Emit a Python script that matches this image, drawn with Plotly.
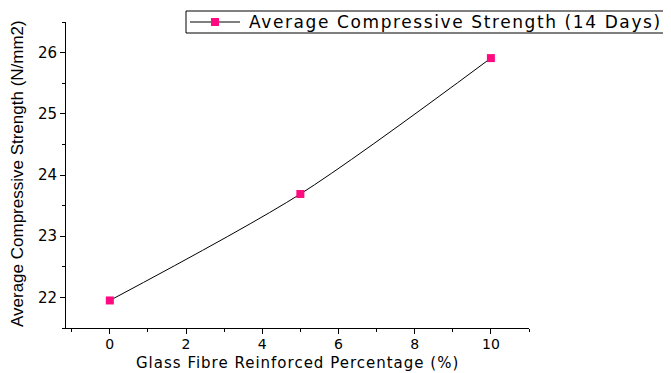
import plotly.graph_objects as go

fibre_pct = [0, 5, 10]
strength_14d = [21.95, 23.69, 25.91]
series_name = "Average Compressive Strength (14 Days)"
x_title = "Glass Fibre Reinforced Percentage (%)"
y_title = "Average Compressive Strength (N/mm2)"
x_ticks = [0, 2, 4, 6, 8, 10]
y_ticks = [22, 23, 24, 25, 26]
pink = "#FF0A80"

W, H = 671, 373
ML, MR, MT, MB = 58, 150, 14, 53
PW, PH = W - ML - MR, H - MT - MB


def px(fx):  # figure pixel -> paper x
    return (fx - ML) / PW


def py(fy):  # figure pixel -> paper y
    return (H - MB - fy) / PH


fig = go.Figure()
fig.add_trace(go.Scatter(
    x=fibre_pct, y=strength_14d, mode="lines+markers", name=series_name,
    line=dict(color="black", width=1, shape="spline", smoothing=0.8),
    marker=dict(symbol="square", color=pink, size=8),
    showlegend=False,
))

# legend box (page body is offset by 8 px)
fig.add_shape(type="rect", xref="paper", yref="paper",
              x0=px(178), x1=px(662), y0=py(3), y1=py(25),
              line=dict(color="black", width=1), fillcolor="white", layer="above")
fig.add_shape(type="line", xref="paper", yref="paper",
              x0=px(182), x1=px(232), y0=py(14), y1=py(14),
              line=dict(color="black", width=1), layer="above")
fig.add_shape(type="rect", xref="paper", yref="paper",
              x0=px(203), x1=px(211), y0=py(10), y1=py(18),
              line=dict(color=pink, width=0), fillcolor=pink, layer="above")
fig.add_annotation(
    xref="paper", yref="paper", x=px(239), y=py(14), xanchor="left", yanchor="middle",
    text="<span style='letter-spacing:1.6px'>%s</span>" % series_name,
    showarrow=False, align="left",
    font=dict(family="DejaVu Sans, sans-serif", size=17, color="black"),
)

# axis titles
fig.add_annotation(
    xref="paper", yref="paper", x=0.5, y=py(365), xanchor="center", yanchor="bottom",
    text="<span style='letter-spacing:1.0px'>%s</span>" % x_title, showarrow=False,
    borderpad=0,
    font=dict(family="DejaVu Sans, sans-serif", size=15, color="black"),
)
fig.add_annotation(
    xref="paper", yref="paper", x=px(9), y=py(166), xanchor="center", yanchor="middle",
    text=y_title, showarrow=False, textangle=-90,
    font=dict(family="Liberation Sans, Arial, sans-serif", size=17, color="black"),
)

fig.update_layout(
    width=W, height=H,
    margin=dict(l=ML, r=MR, t=MT, b=MB),
    paper_bgcolor="white", plot_bgcolor="white",
    font=dict(family="DejaVu Sans, sans-serif", color="black", size=15),
    showlegend=False,
)
fig.update_xaxes(
    range=[-1.15, 11], tickmode="array", tickvals=x_ticks, automargin=False,
    showline=True, linecolor="black", linewidth=1, mirror=False,
    ticks="outside", ticklen=5, tickcolor="black",
    minor=dict(ticks="outside", ticklen=3, dtick=1, tickcolor="black"),
    showgrid=False, zeroline=False,
    tickfont=dict(size=14), ticklabelstandoff=-2,
)
fig.update_yaxes(
    range=[21.5, 26.5], tickmode="array", tickvals=y_ticks, automargin=False,
    showline=True, linecolor="black", linewidth=1,
    ticks="outside", ticklen=5, tickcolor="black",
    minor=dict(ticks="outside", ticklen=3, dtick=0.5, tickcolor="black"),
    showgrid=False, zeroline=False,
)
fig.write_html("out.html")
